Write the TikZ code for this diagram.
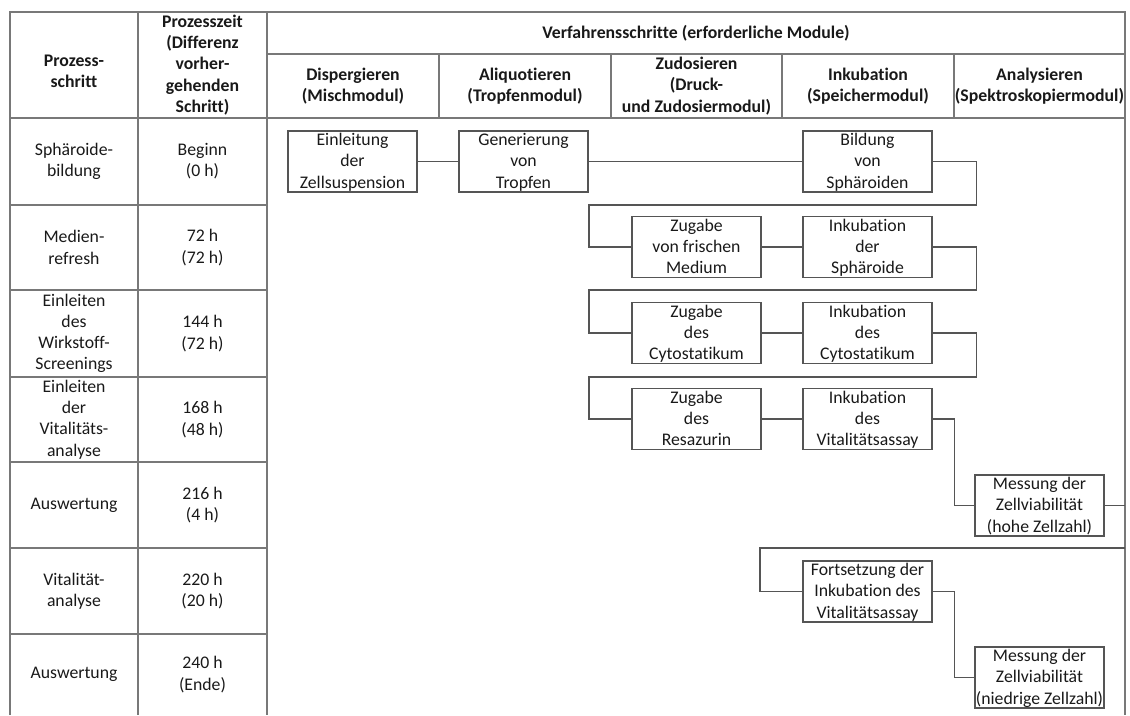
\documentclass[tikz,border=0pt]{standalone}
\usepackage{fontspec}
\setmainfont{Carlito}[Ligatures=NoCommon]
\definecolor{ink}{RGB}{25,25,25}
\definecolor{gridline}{RGB}{120,120,120}
\definecolor{boxline}{RGB}{85,85,85}
\begin{document}
\begin{tikzpicture}[x=0.75pt,y=-0.75pt,
  txt/.style={font=\fontsize{13.3pt}{15.9pt}\selectfont, text=ink, align=center, inner sep=0pt},
  hd/.style={txt, font=\fontsize{13.3pt}{15.9pt}\selectfont\bfseries},
  stepbox/.style={txt, draw=boxline, line width=1pt, minimum width=96.75pt, minimum height=45.75pt,
    execute at begin node={\vrule height 10.2pt depth 0pt width 0pt}, text depth=1.1pt},
  grid/.style={draw=gridline, line width=1pt},
  link/.style={draw=boxline, line width=1pt}]
\useasboundingbox (0,0) rectangle (1130,715);

% table frame and rulings
\draw[grid] (10,715) -- (10,12) -- (1125,12) -- (1125,715);
\draw[grid] (138,12) -- (138,715);
\draw[grid] (267,12) -- (267,715);
\draw[grid] (267,54) -- (1125,54);
\draw[grid] (10,118) -- (1125,118);
\foreach \x in {439,611,782,954} \draw[grid] (\x,54) -- (\x,118);
\foreach \y in {205,290,377,462,548,634} \draw[grid] (10,\y) -- (267,\y);

% header
\node[hd] (hps) at (74,71) {Prozess-\\schritt};
\node[hd] (hpz) at (202.5,65) {Prozesszeit\\(Differenz\\vorher-\\gehenden\\Schritt)};
\node[hd] (hvs) at (696,33) {Verfahrensschritte (erforderliche Module)};
\node[hd] (hm1) at (353,86) {Dispergieren\\(Mischmodul)};
\node[hd] (hm2) at (525,86) {Aliquotieren\\(Tropfenmodul)};
\node[hd] (hm3) at (696.5,86) {Zudosieren\\(Druck-\\und Zudosiermodul)};
\node[hd] (hm4) at (868,86) {Inkubation\\(Speichermodul)};
\node[hd] (hm5) at (1039.5,86) {Analysieren\\(Spektroskopiermodul)};

% process steps and times
\node[txt] (p1) at (74,161.5) {Sphäroide-\\bildung};
\node[txt] (t1) at (202.5,161.5) {Beginn\\(0 h)};
\node[txt] (p2) at (74,247.5) {Medien-\\refresh};
\node[txt] (t2) at (202.5,247.5) {72 h\\(72 h)};
\node[txt] (p3) at (74,333.5) {Einleiten\\des\\Wirkstoff-\\Screenings};
\node[txt] (t3) at (202.5,333.5) {144 h\\(72 h)};
\node[txt] (p4) at (74,419.5) {Einleiten\\der\\Vitalitäts-\\analyse};
\node[txt] (t4) at (202.5,419.5) {168 h\\(48 h)};
\node[txt] (p5) at (74,505) {Auswertung};
\node[txt] (t5) at (202.5,505) {216 h\\(4 h)};
\node[txt] (p6) at (74,591) {Vitalität-\\analyse};
\node[txt] (t6) at (202.5,591) {220 h\\(20 h)};
\node[txt] (p7) at (74,674.5) {Auswertung};
\node[txt] (t7) at (202.5,674.5) {240 h\\(Ende)};

% flow of module steps
\node[stepbox] (ein) at (352.5,161.5) {Einleitung\\der\\Zellsuspension};
\node[stepbox] (gen) at (523.5,161.5) {Generierung\\von\\Tropfen};
\node[stepbox] (bil) at (867.5,161.5) {Bildung\\von\\Sphäroiden};
\node[stepbox] (zm) at (696.5,247) {Zugabe\\von frischen\\Medium};
\node[stepbox] (is) at (867.5,247) {Inkubation\\der\\Sphäroide};
\node[stepbox] (zc) at (696.5,333) {Zugabe\\des\\Cytostatikum};
\node[stepbox] (ic) at (867.5,333) {Inkubation\\des\\Cytostatikum};
\node[stepbox] (zr) at (696.5,419) {Zugabe\\des\\Resazurin};
\node[stepbox] (iv) at (867.5,419) {Inkubation\\des\\Vitalitätsassay};
\node[stepbox] (mh) at (1039.5,505.5) {Messung der\\Zellviabilität\\(hohe Zellzahl)};
\node[stepbox] (fo) at (867.5,591.5) {Fortsetzung der\\Inkubation des\\Vitalitätsassay};
\node[stepbox] (mn) at (1039.5,677.5) {Messung der\\Zellviabilität\\(niedrige Zellzahl)};

\coordinate (edgeA) at (1125,505.5);
\coordinate (edgeB) at (1125,548);

\draw[link] (ein.east) -- (gen.west);
\draw[link] (gen.east) -- (bil.west);
\draw[link] (bil.east) -- ++(44,0) |- (589,205) |- (zm.west);
\draw[link] (zm.east) -- (is.west);
\draw[link] (is.east) -- ++(44,0) |- (589,290) |- (zc.west);
\draw[link] (zc.east) -- (ic.west);
\draw[link] (ic.east) -- ++(44,0) |- (589,377) |- (zr.west);
\draw[link] (zr.east) -- (iv.west);
\draw[link] (iv.east) -- ++(22,0) |- (mh.west);
\draw[link] (mh.east) -- (edgeA);
\draw[link] (edgeB) -- (760,548) |- (fo.west);
\draw[link] (fo.east) -- ++(22,0) |- (mn.west);
\end{tikzpicture}
\end{document}
